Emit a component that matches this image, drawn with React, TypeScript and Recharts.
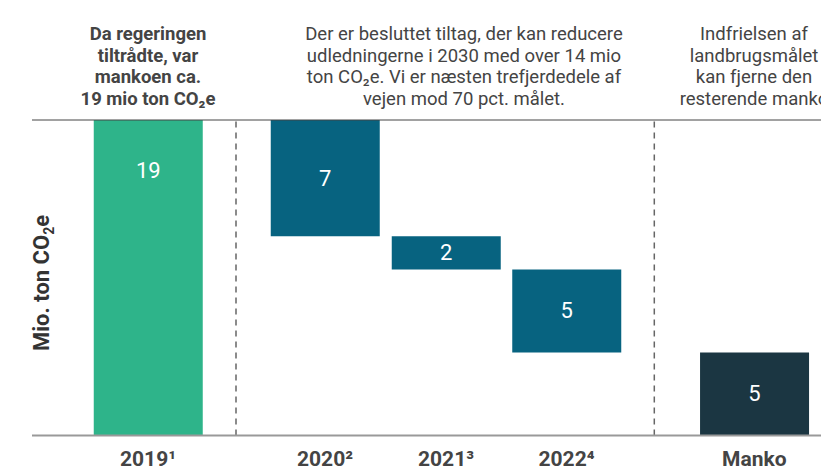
import React from 'react';
import { ComposedChart, Bar, XAxis, YAxis, ReferenceLine, LabelList, Cell } from 'recharts';

// ---- data ----
const categories = ['2019¹', '2020²', '2021³', '2022⁴', 'Manko'];
const kinds = ['start', 'reduction', 'reduction', 'reduction', 'remaining'];
const values = [19, 7, 2, 5, 5];

const headerLeft = ['Da regeringen', 'tiltrådte, var', 'mankoen ca.', '19 mio ton CO₂e'];
const headerMid = [
  'Der er besluttet tiltag, der kan reducere',
  'udledningerne i 2030 med over 14 mio',
  'ton CO₂e. Vi er næsten trefjerdedele af',
  'vejen mod 70 pct. målet.',
];
const headerRight = ['Indfrielsen af', 'landbrugsmålet', 'kan fjerne den', 'resterende manko'];

// ---- layout ----
const W = 821;
const H = 470;
const SVG_W = 880;
const PLOT_LEFT = 32;
const slotPos = [116, 293, 414, 534.5, 722.3];
const dividerPos = [204, 622.3];
const COLORS: Record<string, string> = {
  start: '#2EB48A',
  reduction: '#076380',
  remaining: '#1B3642',
};
const FONT = 'Roboto, "Noto Sans", sans-serif';

let running = 0;
const data = categories.map((name, i) => {
  const v = values[i];
  let base = 0;
  if (kinds[i] === 'start') {
    running = v;
    base = 0;
  } else if (kinds[i] === 'reduction') {
    running -= v;
    base = running;
  } else {
    base = 0;
  }
  return { name, pos: slotPos[i], base, value: v, kind: kinds[i] };
});

const renderLabel = (props: any) => {
  const { x, y, width, height, value, index } = props;
  const cx = x + width / 2;
  const cy = index === 0 ? y + 50 : y + height / 2;
  return (
    <text
      x={cx}
      y={cy}
      fill="#ffffff"
      fontSize={22}
      fontFamily={FONT}
      textAnchor="middle"
      dominantBaseline="central"
    >
      {value}
    </text>
  );
};

const Header = ({ lines, center, bold }: { lines: string[]; center: number; bold?: boolean }) => (
  <div
    style={{
      position: 'absolute',
      left: center - 220,
      width: 440,
      top: 24,
      textAlign: 'center',
      fontFamily: FONT,
      fontSize: 18.5,
      lineHeight: '21.5px',
      fontWeight: bold ? 700 : 400,
      color: '#444',
      whiteSpace: 'nowrap',
    }}
  >
    {lines.map((l, i) => (
      <div key={i}>{l}</div>
    ))}
  </div>
);

export default function App() {
  return (
    <div
      style={{
        position: 'fixed',
        left: 0,
        top: 0,
        width: W,
        height: H,
        overflow: 'hidden',
        background: '#fff',
      }}
    >
      <ComposedChart
        width={SVG_W}
        height={H}
        data={data}
        margin={{ top: 120, right: 0, bottom: 4.5, left: PLOT_LEFT }}
      >
        <XAxis
          type="number"
          dataKey="pos"
          domain={[0, SVG_W - PLOT_LEFT]}
          ticks={slotPos}
          interval={0}
          allowDataOverflow
          tickFormatter={(v: number) => {
            const i = slotPos.indexOf(v);
            return i >= 0 ? categories[i] : '';
          }}
          height={30}
          tickLine={false}
          tickSize={0}
          tickMargin={16}
          axisLine={{ stroke: '#999', strokeWidth: 2 }}
          tick={{ fill: '#444', fontSize: 21, fontWeight: 700, fontFamily: FONT }}
        />
        <YAxis hide domain={[0, 19]} allowDataOverflow />
        <ReferenceLine y={19} stroke="#444" strokeWidth={1} ifOverflow="visible" />
        {dividerPos.map((x) => (
          <ReferenceLine key={x} x={x} stroke="#666" strokeWidth={1.5} strokeDasharray="6 5" />
        ))}
        <Bar dataKey="base" stackId="w" fill="transparent" barSize={109} isAnimationActive={false} />
        <Bar dataKey="value" stackId="w" barSize={109} isAnimationActive={false}>
          {data.map((d, i) => (
            <Cell key={i} fill={COLORS[d.kind]} />
          ))}
          <LabelList dataKey="value" content={renderLabel} />
        </Bar>
      </ComposedChart>

      <Header lines={headerLeft} center={148} bold />
      <Header lines={headerMid} center={464} />
      <Header lines={headerRight} center={754} />

      <div
        style={{
          position: 'absolute',
          left: 43,
          top: 283,
          transform: 'translate(-50%, -50%) rotate(-90deg)',
          fontFamily: FONT,
          fontSize: 22,
          fontWeight: 700,
          color: '#333',
          whiteSpace: 'nowrap',
        }}
      >
        Mio. ton CO<span style={{ fontSize: 14, verticalAlign: 'sub' }}>2</span>e
      </div>
    </div>
  );
}
